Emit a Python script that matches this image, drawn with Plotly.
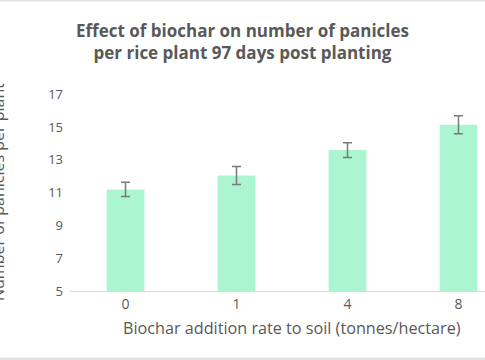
import plotly.graph_objects as go

categories = ["0", "1", "4", "8"]
panicles = [11.2, 12.05, 13.6, 15.15]
errors = [0.43, 0.55, 0.45, 0.55]
y_ticks = [5, 7, 9, 11, 13, 15, 17]

W, H = 485, 360
L, R, T, B = 70, 0, 78, 69
pw, ph = W - L - R, H - T - B

def px_x(p):
    return (p - L) / pw

def px_y(p):
    return (H - B - p) / ph

FONT = "Open Sans"
GREY = "#595959"

fig = go.Figure()
fig.add_trace(go.Bar(
    x=list(range(len(categories))), y=panicles,
    marker=dict(color="#abf6d1", line=dict(width=0)),
    width=0.34,
    error_y=dict(type="data", array=errors, color="#7a7a7a", thickness=1.5, width=4.5),
))

fig.update_layout(
    width=W, height=H,
    margin=dict(l=L, r=R, t=T, b=B),
    paper_bgcolor="white", plot_bgcolor="white",
    showlegend=False,
    font=dict(family=FONT, color=GREY),
    title=dict(
        text="<b>Effect of biochar on number of panicles<br>per rice plant 97 days post planting</b>",
        x=0.5, xanchor="center", xref="container",
        y=1 - 37 / H, yanchor="top", yref="container",
        font=dict(family=FONT, size=17, color=GREY),
    ),
    xaxis=dict(
        range=[-0.5, -0.5 + pw / 111.0],
        tickmode="array", tickvals=list(range(len(categories))), ticktext=categories,
        showgrid=False, zeroline=False,
        showline=True, linecolor="#d9d9d9", linewidth=1,
        ticks="", tickfont=dict(size=14, color=GREY),
    ),
    yaxis=dict(
        range=[5, 18],
        tickmode="array", tickvals=y_ticks,
        showgrid=False, zeroline=False, showline=False,
        ticks="", tickfont=dict(size=13, color=GREY),
        ticklabelstandoff=6,
    ),
)

fig.add_annotation(
    text="Number of panicles per plant", textangle=-90,
    xref="paper", yref="paper", x=px_x(-2.5), y=px_y(192.5),
    xanchor="center", yanchor="middle", showarrow=False,
    font=dict(family=FONT, size=16, color=GREY),
)
fig.add_annotation(
    text="Biochar addition rate to soil (tonnes/hectare)",
    xref="paper", yref="paper", x=px_x(292), y=px_y(328),
    xanchor="center", yanchor="middle", showarrow=False,
    font=dict(family=FONT, size=16.2, color=GREY),
)

# thin light frame bands at top and bottom
fig.add_shape(type="rect", xref="paper", yref="paper",
              x0=px_x(0), x1=px_x(W), y0=px_y(0), y1=px_y(1.5),
              fillcolor="#dfe3e7", line=dict(width=0), layer="above")
fig.add_shape(type="rect", xref="paper", yref="paper",
              x0=px_x(0), x1=px_x(W), y0=px_y(357.5), y1=px_y(360),
              fillcolor="#e2e2e2", line=dict(width=0), layer="above")

fig.write_html(
    "out.html",
    config={"displayModeBar": False},
    post_script="document.body.style.margin='0';document.body.style.overflow='hidden';",
)
